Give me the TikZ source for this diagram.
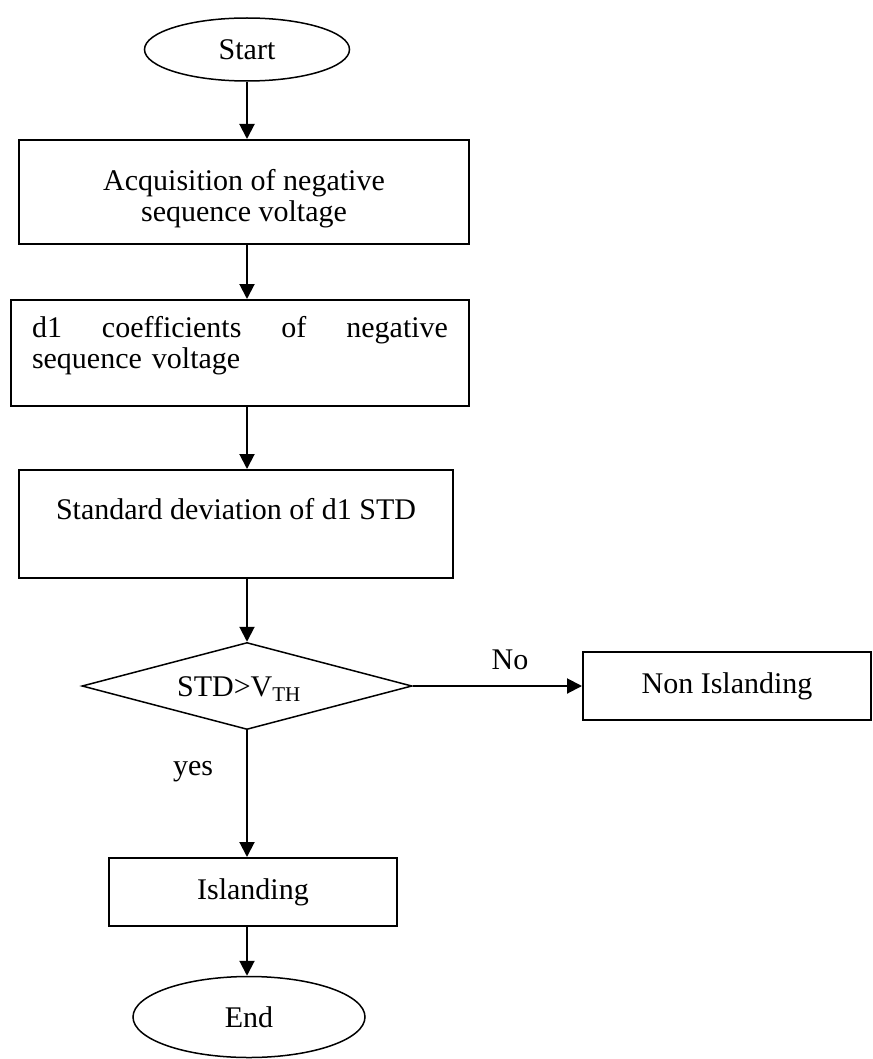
\documentclass[tikz,border=0pt]{standalone}
\usepackage{fontspec}
\setmainfont{Liberation Serif}
\usetikzlibrary{shapes.geometric,arrows.meta}

\begin{document}
\begin{tikzpicture}[x=1pt,y=-1pt,
  every node/.style={font=\fontsize{30}{31}\selectfont, inner sep=0pt},
  terminal/.style={draw, line width=1.5pt, ellipse},
  procbox/.style={draw, line width=2pt, rectangle, align=center},
  decision/.style={draw, line width=1.5pt, diamond, aspect=3.8},
  arr/.style={line width=2pt, -{Triangle[length=15pt,width=15pt]}},
  tag/.style={}
]
\useasboundingbox (0,0) rectangle (872,1059);

% main column of the flow chart
\node[terminal, minimum width=205pt, minimum height=63pt] (start) at (247,49.5) {Start};
\node[procbox, minimum width=450pt, minimum height=104pt,
  label={[name=acqtext, align=center, yshift=-7pt]center:Acquisition of negative\\sequence voltage}]
  (acq) at (244,192) {};
\node[procbox, minimum width=458pt, minimum height=106pt,
  label={[name=coeftext, align=left, text width=416pt, yshift=7pt]center:%
    \hbox to 416pt{d1\hfill coefficients\hfill of\hfill negative}\\sequence voltage}]
  (coef) at (240,353) {};
\node[procbox, minimum width=434pt, minimum height=108pt] (std) at (236,524)
  {Standard deviation of d1 STD\\\mbox{}};
\node[decision, minimum width=330pt, minimum height=87pt,
  label={[name=dectext, xshift=-8pt, yshift=-3pt]center:STD>V\textsubscript{TH}}]
  (dec) at (247,686) {};
\node[procbox, minimum width=288pt, minimum height=68pt] (non) at (727,686) {Non Islanding};
\node[procbox, minimum width=288pt, minimum height=68pt] (isl) at (253,892) {Islanding};
\node[terminal, minimum width=232pt, minimum height=81pt] (stop) at (249,1017) {End};

% connectors
\draw[arr] (start.south) -- (start.south |- acq.north);
\draw[arr] (start.south |- acq.south) -- (start.south |- coef.north);
\draw[arr] (start.south |- coef.south) -- (start.south |- std.north);
\draw[arr] (start.south |- std.south) -- (dec.north);
\draw[arr] (dec.east) -- (non.west);
\draw[arr] (dec.south) -- (dec.south |- isl.north);
\draw[arr] (dec.south |- isl.south) -- (dec.south |- stop.north);

% branch labels
\node[tag] (nolabel) at (510,660) {No};
\node[tag] (yeslabel) at (193,772) {yes};
\end{tikzpicture}
\end{document}
